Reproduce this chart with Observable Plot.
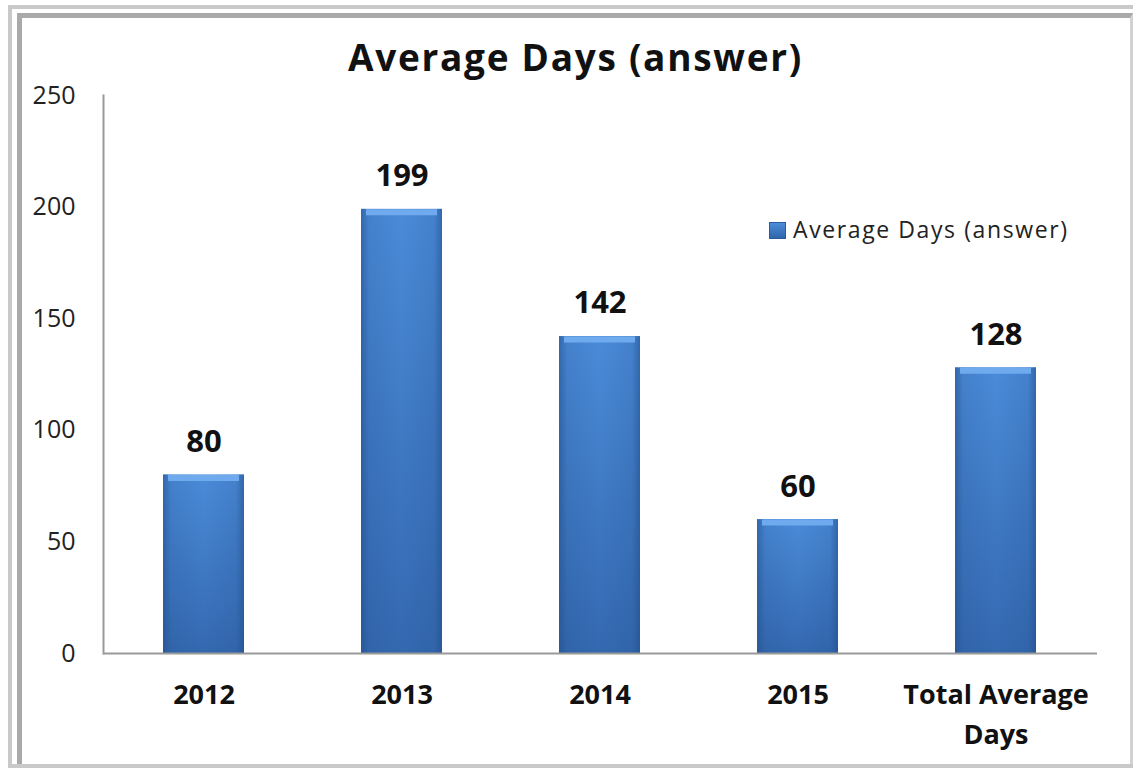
<!DOCTYPE html>
<html>
<head>
<meta charset="utf-8">
<script src="https://cdn.jsdelivr.net/npm/d3@7"></script>
<script src="https://cdn.jsdelivr.net/npm/@observablehq/plot@0.6"></script>
<style>
  html, body { margin: 0; padding: 0; background: #fff; }
  #wrap { position: relative; width: 1133px; height: 772px; overflow: hidden; font-family: "Open Sans", sans-serif; }
  .frame1 { position: absolute; left: 8px; top: 5px; right: -8px; bottom: 4px; border: 4px solid #c9c9c9; box-sizing: border-box; }
  .frame2 { position: absolute; left: 17px; top: 13px; right: 0px; bottom: 8px; border-left: 5px solid #a9a9a9; border-top: 5px solid #a9a9a9; border-right: 3px solid #d2d2d2; box-sizing: border-box; }
  #title { position: absolute; left: 9px; width: 1133px; top: 38px; line-height: 37px; text-align: center; font-size: 37px; letter-spacing: 1.7px; font-weight: bold; color: #111; }
  #chart { position: absolute; left: 0; top: 80px; }
  #legend { position: absolute; left: 769px; top: 218px; line-height: 23px; font-size: 23px; letter-spacing: 1.6px; color: #222; white-space: nowrap; }
  #legend .sw { position: absolute; left: 0; top: 4px; width: 17px; height: 17px; background: linear-gradient(#4f8fdc, #2d62a8); box-shadow: inset 0 0 0 1px #2a5a9a; }
  #legend .lbl { position: absolute; left: 24px; top: 0; }
</style>
</head>
<body>
<div id="wrap">
  <div class="frame1"></div>
  <div class="frame2"></div>
  <div id="title">Average Days (answer)</div>
  <div id="chart"></div>
  <div id="legend"><span class="sw"></span><span class="lbl">Average Days (answer)</span></div>
</div>
<script>
const categories = ["2012", "2013", "2014", "2015", "Total Average Days"];
const values = [80, 199, 142, 60, 128];
const yTicks = [0, 50, 100, 150, 200, 250];
const seriesName = "Average Days (answer)";

const data = categories.map((c, i) => ({category: c, value: values[i]}));

const NS = "http://www.w3.org/2000/svg";
function defs() {
  const g = document.createElementNS(NS, "defs");
  g.innerHTML = `
    <linearGradient id="barV" x1="0" y1="0" x2="0" y2="1">
      <stop offset="0%" stop-color="#4b8bd9"/>
      <stop offset="100%" stop-color="#3469b0"/>
    </linearGradient>
    <linearGradient id="barH" x1="0" y1="0" x2="1" y2="0">
      <stop offset="0%" stop-color="#1f4a85" stop-opacity="0.55"/>
      <stop offset="10%" stop-color="#1f4a85" stop-opacity="0.15"/>
      <stop offset="50%" stop-color="#1f4a85" stop-opacity="0"/>
      <stop offset="90%" stop-color="#1f4a85" stop-opacity="0.15"/>
      <stop offset="100%" stop-color="#1f4a85" stop-opacity="0.55"/>
    </linearGradient>`;
  return g;
}

const chart = Plot.plot({
  width: 1133,
  height: 692,
  marginTop: 15,
  marginBottom: 119,
  marginLeft: 103,
  marginRight: 36,
  style: {fontFamily: "'Open Sans', sans-serif", color: "#111", background: "transparent", overflow: "visible"},
  x: {domain: categories, paddingInner: 0.59, paddingOuter: 0.295, label: null},
  y: {domain: [0, 250], label: null},
  marks: [
    defs,
    Plot.rectY(data, {x: "category", y: "value", fill: "url(#barV)"}),
    Plot.rectY(data, {x: "category", y: "value", fill: "url(#barH)"}),
    Plot.tickY(data, {x: "category", y: "value", stroke: "#6fa9ee", strokeWidth: 6, dy: 3, inset: 5}),
    Plot.ruleY([0], {stroke: "#9a9a9a", strokeWidth: 2}),
    Plot.frame({anchor: "left", stroke: "#9a9a9a", strokeWidth: 2}),
    Plot.axisY({ticks: yTicks, tickSize: 0, tickPadding: 28, fontSize: 25, fill: "#222", label: null}),
    Plot.axisX({tickSize: 0, tickPadding: 22, fontSize: 27, fontWeight: "bold", fill: "#111", lineHeight: 1.48,
      tickFormat: d => d === "Total Average Days" ? "Total Average\nDays" : d, label: null}),
    Plot.text(data, {x: "category", y: "value", text: d => String(d.value), dy: -33, fontSize: 31, fontWeight: "bold", fill: "#111"})
  ]
});
document.getElementById("chart").appendChild(chart);
</script>
</body>
</html>
